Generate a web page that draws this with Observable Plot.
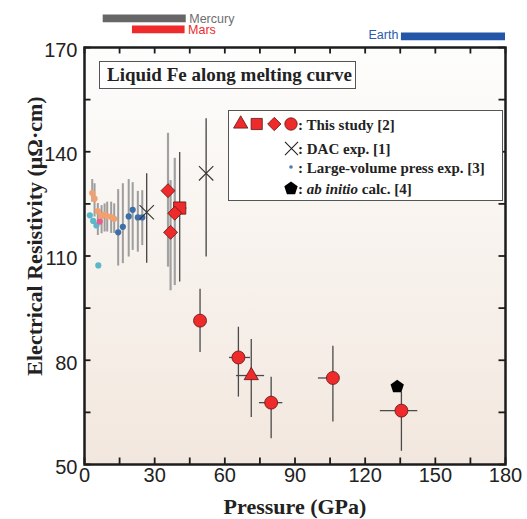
<!DOCTYPE html>
<html><head><meta charset="utf-8">
<script src="https://cdn.jsdelivr.net/npm/d3@7"></script>
<script src="https://cdn.jsdelivr.net/npm/@observablehq/plot@0.6"></script>
<style>
html,body{margin:0;padding:0;background:#fff;}
#chart{width:527px;height:519px;}
</style></head><body><div id="chart"></div>
<script>
// ---- This study [2] ----
const studyShape = ["triangle","square","diamond","diamond","diamond","circle","circle","circle","circle","circle"];
const studyP     = [71.3, 40.7, 35.7, 38.6, 36.8, 49.4, 65.8, 79.8, 106.2, 135.5];
const studyR     = [75.6, 123.8, 128.8, 122.3, 116.8, 91.4, 80.8, 67.8, 74.9, 65.5];
const studyRlo   = [63.5, 102.5, 106.8, 101.5, 100.0, 82.2, 69.4, 57.4, 62.2, 53.8];
const studyRhi   = [86.0, 139.8, 145.3, 138.1, 131.7, 100.4, 89.5, 75.1, 84.0, 70.8];
const studyPlo   = [65.0, 38.0, null, null, null, null, 62.0, 74.8, 100.0, 126.5];
const studyPhi   = [77.0, 43.8, null, null, null, null, 71.0, 84.8, 108.0, 142.5];
// ---- DAC exp. [1] ----
const dacP   = [26.6, 52.0];
const dacR   = [122.6, 133.8];
const dacRlo = [107.9, 109.7];
const dacRhi = [133.7, 149.5];
// ---- Large-volume press exp. [3] ----
const lvpSet = ["a","a","a","a", "b","b","b","b","b","b","b","b", "c", "d","d","d","d","d","d"];
const lvpP   = [2.3, 3.7, 5.1, 5.9, 3.3, 4.3, 5.7, 7.3, 8.6, 9.7, 11.4, 12.7, 6.5, 14.4, 16.4, 18.9, 20.6, 22.8, 24.7];
const lvpR   = [121.7, 120.1, 118.8, 107.3, 128.1, 126.5, 122.9, 121.5, 121.9, 121.5, 121.2, 120.7, 119.9, 116.8, 118.4, 121.4, 123.3, 121.1, 121.1];
const lvpRlo = [null, null, null, null, 125.5, 121.2, 115.9, 116.4, 116.9, 116.9, 116.5, 116.5, null, 107.1, 107.8, 109.7, 111.6, 111.1, 113.0];
const lvpRhi = [null, null, null, null, 132.0, 130.8, 125.1, 124.5, 125.0, 125.5, 125.5, 125.0, null, 129.1, 130.8, 132.0, 131.1, 128.6, 128.8];
// ---- ab initio calc. [4] ----
const abP = [133.7];
const abR = [72.4];
// ---- Planetary core pressure ranges ----
const planetName = ["Mercury", "Mars", "Earth"];
const planetPmin = [8, 20.5, 135.5];
const planetPmax = [43.5, 43, 364];
// ---- Axes ----
const xDomain = [0, 180];
const yDomain = [50, 170];
const xTickLabels = [0, 30, 60, 90, 120, 150, 180];
const yTickLabels = [50, 80, 110, 140, 170];
const xTicks = [0, 15, 30, 45, 60, 75, 90, 105, 120, 135, 150, 165, 180];
const yTicks = [50, 65, 80, 95, 110, 125, 140, 155, 170];

const study = studyP.map((p, i) => ({shape: studyShape[i], p, r: studyR[i], rlo: studyRlo[i], rhi: studyRhi[i], plo: studyPlo[i], phi: studyPhi[i]}));
const dac = dacP.map((p, i) => ({p, r: dacR[i], rlo: dacRlo[i], rhi: dacRhi[i]}));
const lvp = lvpP.map((p, i) => ({set: lvpSet[i], p, r: lvpR[i], rlo: lvpRlo[i], rhi: lvpRhi[i]}));
const ab = abP.map((p, i) => ({p, r: abR[i]}));
const planets = planetName.map((name, i) => ({name, min: planetPmin[i], max: planetPmax[i]}));

const W = 527, H = 519, MT = 47, MR = 22, MB = 55, ML = 84;
const FW = W - ML - MR, FH = H - MT - MB, TICK = 6.5;

const RED = "#ee2a2a", REDSTROKE = "#5e1616";
const planetColor = {Mercury: "#666666", Mars: "#ee2a2a", Earth: "#2456a8"};
const planetText = {Mercury: "#6e6e6e", Mars: "#ee2a2a", Earth: "#2a5cac"};
const planetDy = {Mercury: -29.2, Mars: -18.2, Earth: -11.2};

const pentagon = {draw(ctx, size) {
  const R = Math.sqrt(size / 2.378);
  for (let i = 0; i < 5; i++) {
    const a = -Math.PI / 2 + i * 2 * Math.PI / 5;
    const x = R * Math.cos(a), y = R * Math.sin(a);
    if (i) ctx.lineTo(x, y); else ctx.moveTo(x, y);
  }
  ctx.closePath();
}};

const shapeStyle = {
  triangle: {symbol: "triangle", r: 5.3},
  square: {symbol: "square", r: 6.9},
  diamond: {symbol: "diamond2", r: 6.3},
  circle: {symbol: "circle", r: 6.5}
};
const lvpColor = {a: "#5cb8c9", b: "#f3a070", c: "#ea5b8c", d: "#3d6fa8"};

const planetMarks = planets.flatMap(pl => [
  Plot.ruleY([pl], {x1: "min", x2: d => Math.min(d.max, xDomain[1]), y: () => yDomain[1], dy: planetDy[pl.name], stroke: planetColor[pl.name], strokeWidth: 7.7, clip: false}),
  Plot.text([pl], {
    x: d => pl.name === "Earth" ? d.min : d.max,
    y: () => yDomain[1], dy: planetDy[pl.name] + (pl.name === "Earth" ? -1.5 : 0.5),
    dx: pl.name === "Earth" ? -3 : 3,
    text: "name", textAnchor: pl.name === "Earth" ? "end" : "start",
    fill: planetText[pl.name], fontSize: 12.5, clip: false
  })
]);

const tk = {stroke: "#1c1c1c", strokeWidth: 1.8};

const chart = Plot.plot({
  width: W, height: H,
  marginTop: MT, marginRight: MR, marginBottom: MB, marginLeft: ML,
  x: {domain: xDomain},
  y: {domain: yDomain},
  style: {fontFamily: "'Liberation Sans', Arial, sans-serif", fontSize: "20px", color: "#222", background: "transparent", overflow: "visible"},
  marks: [
    Plot.frame({fill: "url(#bgGrad)"}),
    Plot.axisX(xTickLabels, {anchor: "bottom", tickSize: 0, tickPadding: 3, label: null, fontSize: 20}),
    Plot.axisY(yTickLabels, {anchor: "left", tickSize: 0, tickPadding: 7, label: null, fontSize: 20, dy: 3}),
    // inward ticks on all four sides
    Plot.tickX(xTicks, {x: d => d, insetTop: FH - TICK, ...tk}),
    Plot.tickX(xTicks, {x: d => d, insetBottom: FH - TICK, ...tk}),
    Plot.tickY(yTicks, {y: d => d, insetRight: FW - TICK, ...tk}),
    Plot.tickY(yTicks, {y: d => d, insetLeft: FW - TICK, ...tk}),
    ...planetMarks,
    // error bars
    Plot.ruleX(lvp.filter(d => d.rlo != null), {x: "p", y1: "rlo", y2: "rhi", stroke: "#9e9e9e", strokeWidth: 2}),
    Plot.ruleX(dac, {x: "p", y1: "rlo", y2: "rhi", stroke: "#333", strokeWidth: 1.2}),
    Plot.ruleX(study.filter(d => d.shape === "diamond"), {x: "p", y1: "rlo", y2: "rhi", stroke: "#a2a2a2", strokeWidth: 2.2}),
    Plot.ruleX(study.filter(d => d.shape !== "diamond"), {x: "p", y1: "rlo", y2: "rhi", stroke: "#4a4a4a", strokeWidth: 1.3}),
    Plot.ruleY(study.filter(d => d.plo != null), {y: "r", x1: "plo", x2: "phi", stroke: "#4a4a4a", strokeWidth: 1.3}),
    // points
    Plot.dot(lvp, {x: "p", y: "r", r: 3.1, fill: d => lvpColor[d.set], stroke: "none"}),
    Plot.dot(dac, {x: "p", y: "r", symbol: "times", r: 6.6, stroke: "#333", strokeWidth: 1.1}),
    ...Object.keys(shapeStyle).map(s => Plot.dot(study.filter(d => d.shape === s), {x: "p", y: "r", symbol: shapeStyle[s].symbol, r: shapeStyle[s].r, fill: RED, stroke: REDSTROKE, strokeWidth: 0.8})),
    Plot.dot(ab, {x: "p", y: "r", symbol: pentagon, r: 6.1, fill: "#000", stroke: "none"}),
    Plot.frame({stroke: "#1c1c1c", strokeWidth: 2.5})
  ]
});

const svg = d3.select(chart);
const grad = svg.insert("defs", ":first-child").append("linearGradient")
  .attr("id", "bgGrad").attr("x1", 0).attr("y1", 0).attr("x2", 0).attr("y2", 1);
grad.append("stop").attr("offset", "0%").attr("stop-color", "#fdfdfc");
grad.append("stop").attr("offset", "100%").attr("stop-color", "#f2e7de");

const serif = "'Liberation Serif', 'Times New Roman', serif";
// axis titles
svg.append("text").attr("x", 295).attr("y", 514).attr("text-anchor", "middle")
  .attr("font-family", serif).attr("font-weight", "bold").attr("font-size", 22).attr("fill", "#222")
  .text("Pressure (GPa)");
svg.append("text").attr("transform", "translate(34,236) rotate(-90)").attr("text-anchor", "middle")
  .attr("font-family", serif).attr("font-weight", "bold").attr("font-size", 22).attr("fill", "#222")
  .attr("dy", "0.35em")
  .text("Electrical Resistivity (μΩ·cm)");

// title box
svg.append("rect").attr("x", 99.5).attr("y", 61.5).attr("width", 256).attr("height", 27)
  .attr("fill", "#fff").attr("stroke", "#555").attr("stroke-width", 1);
svg.append("text").attr("x", 107).attr("y", 81).attr("text-anchor", "start").attr("font-family", serif).attr("font-weight", "bold")
  .attr("font-size", 19).attr("fill", "#222").text("Liquid Fe along melting curve");

// legend
const lg = svg.append("g");
lg.append("rect").attr("x", 228.5).attr("y", 110.5).attr("width", 274).attr("height", 90)
  .attr("fill", "#fff").attr("stroke", "#555").attr("stroke-width", 1);
const sym = (type, r) => d3.symbol().type(type).size(Math.PI * r * r)();
[[d3.symbolTriangle, 5.3, 240.7], [d3.symbolSquare, 6.3, 256.7], [d3.symbolDiamond2, 6.0, 274.3], [d3.symbolCircle, 6.2, 291]]
  .forEach(([t, r, x]) => lg.append("path").attr("d", sym(t, r)).attr("transform", `translate(${x},124)`)
    .attr("fill", RED).attr("stroke", REDSTROKE).attr("stroke-width", 0.8));
lg.append("path").attr("d", sym(d3.symbolTimes, 6.0)).attr("transform", "translate(291.5,148.5)")
  .attr("fill", "none").attr("stroke", "#222").attr("stroke-width", 1.1);
lg.append("circle").attr("cx", 291).attr("cy", 167).attr("r", 1.8).attr("fill", "#4a7ab0");
lg.append("path").attr("d", sym(pentagon, 6.1)).attr("transform", "translate(291,188.5)").attr("fill", "#000");
const lt = (y) => lg.append("text").attr("x", 298).attr("y", y).attr("text-anchor", "start").attr("font-family", serif)
  .attr("font-weight", "bold").attr("font-size", 15).attr("fill", "#222");
lt(129.5).text(": This study [2]");
lt(153.5).text(": DAC exp. [1]");
lt(172.5).text(": Large-volume press exp. [3]");
const t4 = lt(193.5);
t4.append("tspan").text(": ");
t4.append("tspan").attr("font-style", "italic").text("ab initio");
t4.append("tspan").text(" calc. [4]");

document.getElementById("chart").appendChild(chart);
</script>
</body></html>
